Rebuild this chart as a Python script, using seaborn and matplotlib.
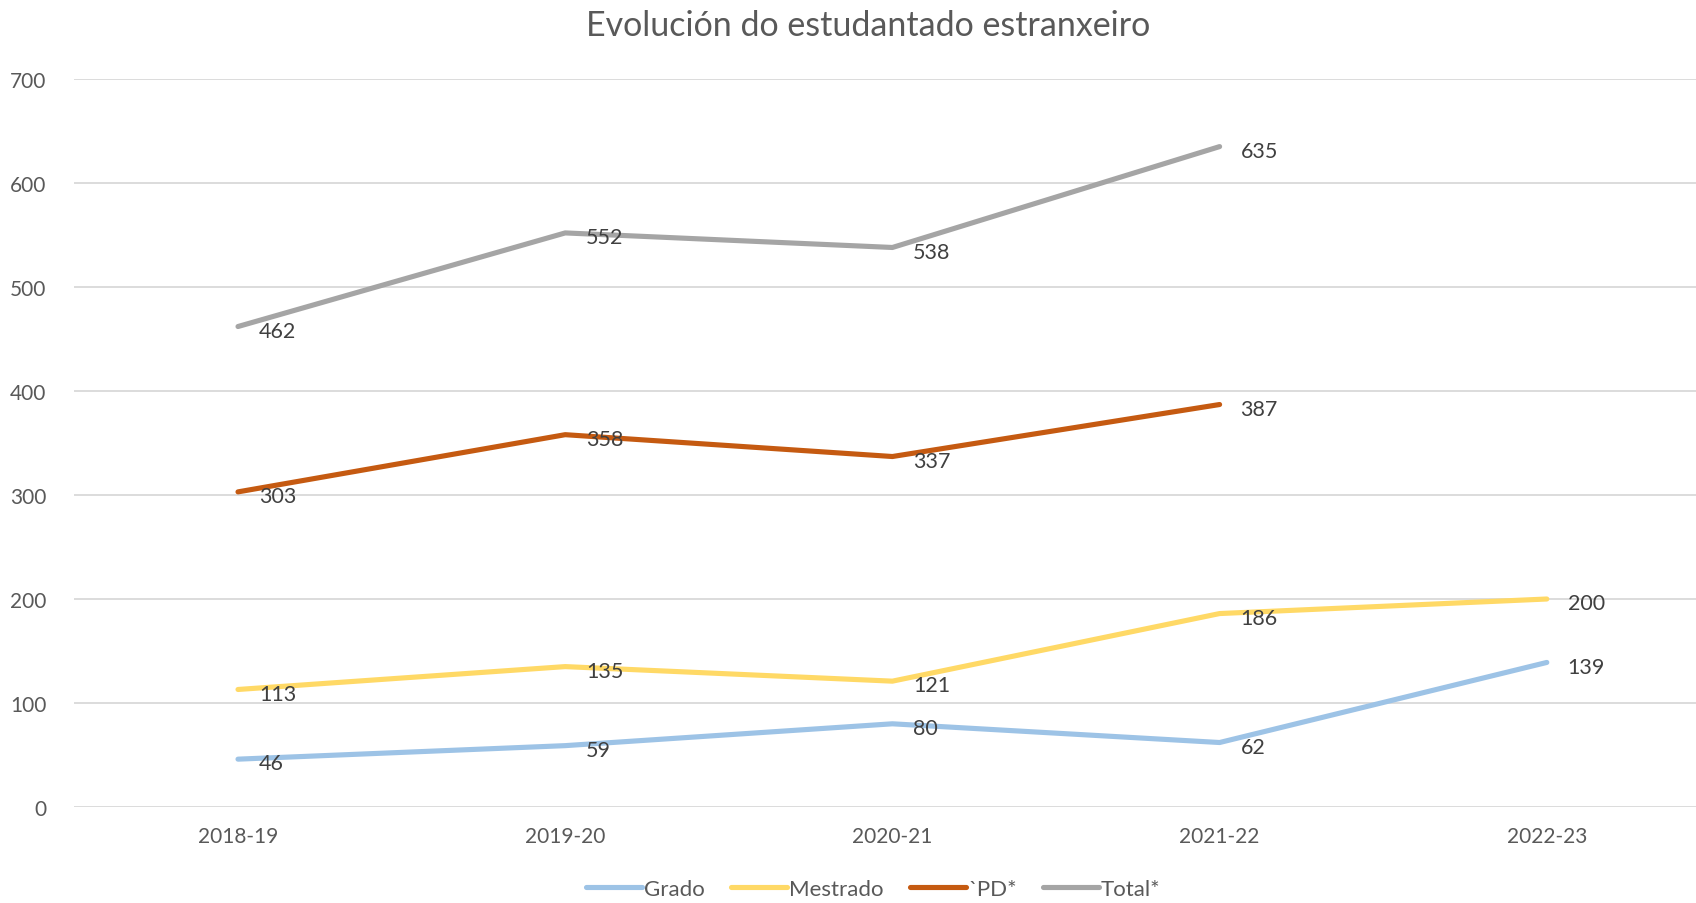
import numpy as np
import pandas as pd
import matplotlib.pyplot as plt
import seaborn as sns

# Data
years = ["2018-19", "2019-20", "2020-21", "2021-22", "2022-23"]
grado = [46, 59, 80, 62, 139]
mestrado = [113, 135, 121, 186, 200]
pd_vals = [303, 358, 337, 387, np.nan]
total = [462, 552, 538, 635, np.nan]
series_names = ["Grado", "Mestrado", "`PD*", "Total*"]
colors = ["#9DC3E6", "#FFD966", "#C55A11", "#A5A5A5"]

df = pd.DataFrame({
    "Curso": years * 4,
    "Serie": [n for n in series_names for _ in years],
    "Valor": grado + mestrado + pd_vals + total,
})
df["pos"] = df["Curso"].map({y: i for i, y in enumerate(years)})

sns.set_theme(style="white")
plt.rcParams["font.family"] = ["Lato", "DejaVu Sans"]

fig = plt.figure(figsize=(16.96, 9.04), dpi=100)
ax = fig.add_axes([74.4 / 1696, 1 - 808 / 904, 1636 / 1696, (808 - 80) / 904])

sns.lineplot(data=df.dropna(), x="pos", y="Valor", hue="Serie", hue_order=series_names,
             palette=colors, linewidth=3.7, ax=ax, legend=False, sort=False)

# Data labels to the right of each point
for name, col in zip(series_names, colors):
    sub = df[df["Serie"] == name].dropna()
    for x, v in zip(sub["pos"], sub["Valor"]):
        ax.annotate(f"{int(v)}", (x, v), xytext=(15, -3), textcoords="offset points",
                    ha="left", va="center", fontsize=15.5, color="#404040")

ax.set_xlim(-0.5, 4.5)
ax.set_ylim(0, 700)
ax.set_yticks(range(0, 701, 100))
ax.set_xticks(range(len(years)))
ax.set_xticklabels(years)
ax.yaxis.grid(True, color="#D9D9D9", linewidth=1.3)
ax.set_axisbelow(True)
for s in ax.spines.values():
    s.set_visible(False)
ax.tick_params(axis="both", length=0, labelsize=15, labelcolor="#595959")
ax.tick_params(axis="y", pad=20)
ax.tick_params(axis="x", pad=14)
ax.set_xlabel("")
ax.set_ylabel("")

fig.text(0.512, 1 - 26 / 904, "Evolución do estudantado estranxeiro", ha="center", va="center",
         fontsize=24.5, color="#595959")

handles = [plt.Line2D([], [], color=c, linewidth=3.7, solid_capstyle="round") for c in colors]
fig.legend(handles, series_names, loc="center", bbox_to_anchor=(0.515, 1 - 890 / 904), ncol=4,
           frameon=False, fontsize=16, labelcolor="#595959", handlelength=2.5,
           handletextpad=0.1, columnspacing=1.2)

fig.savefig("out.png", dpi=100)
